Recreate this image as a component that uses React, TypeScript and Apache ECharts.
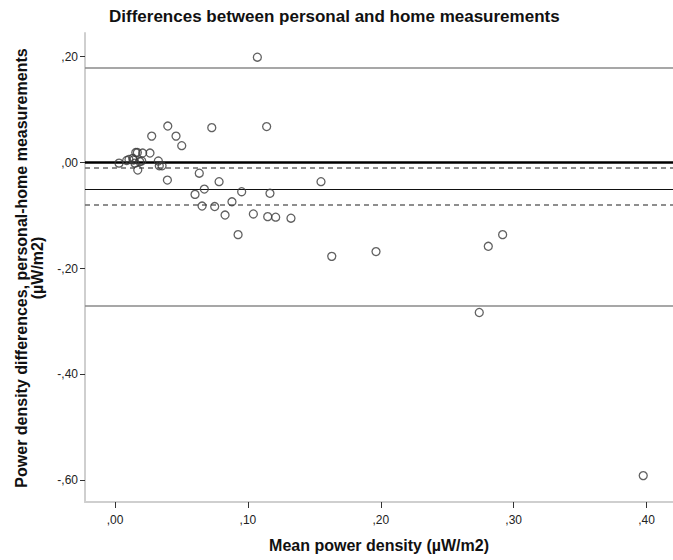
import React, { useEffect, useRef } from "react";
import * as echarts from "echarts";

// Mean power density (µW/m2) for each subject
const meanPower = [
  0.003, 0.0088, 0.0138, 0.0156, 0.0168, 0.0208, 0.0263, 0.0201, 0.015, 0.0171,
  0.0133, 0.0276, 0.0397, 0.0459, 0.0502, 0.0728, 0.1141, 0.0326, 0.0333, 0.0354,
  0.0394, 0.0634, 0.0783, 0.0672, 0.0602, 0.0953, 0.1166, 0.0655, 0.075, 0.088,
  0.0828, 0.1041, 0.1149, 0.1209, 0.1324, 0.0926, 0.155, 0.1631, 0.1964, 0.2809,
  0.2917, 0.2741, 0.1071, 0.3975, 0.0105, 0.0186,
];
// Personal - home differences (µW/m2)
const diffPower = [
  -0.001, 0.004, 0.005, 0.019, 0.019, 0.018, 0.018, 0.003, -0.001, -0.014,
  0.008, 0.05, 0.069, 0.05, 0.032, 0.066, 0.068, 0.003, -0.006, -0.006,
  -0.033, -0.02, -0.036, -0.05, -0.06, -0.055, -0.058, -0.082, -0.083, -0.074,
  -0.099, -0.097, -0.102, -0.103, -0.105, -0.136, -0.036, -0.177, -0.168, -0.158,
  -0.136, -0.283, 0.199, -0.591, 0.006, 0.002,
];

const xTicks = [0, 0.1, 0.2, 0.3, 0.4];
const yTicks = [0.2, 0, -0.2, -0.4, -0.6];

const zeroLine = 0;
const meanDiff = -0.0464;
const ciUpper = -0.0125;
const ciLower = -0.0798;
const upperLoA = 0.18;
const lowerLoA = -0.2728;

const FONT = "'Liberation Sans', Arial, sans-serif";

function fmt(v: number): string {
  const s = Math.abs(v).toFixed(2).replace(/^0\./, ",");
  return (v < -1e-9 ? "-" : "") + s;
}

export default function App() {
  const ref = useRef<HTMLDivElement>(null);
  useEffect(() => {
    if (!ref.current) return;
    const chart = echarts.init(ref.current, undefined, { renderer: "svg" });
    const points = meanPower.map((x, i) => [x, diffPower[i]]);
    const gray = { color: "#8a8a8a", width: 1.5, type: "solid" as const };
    const dashed = { color: "#6a6a6a", width: 1.5, type: [5, 4] as any };
    chart.setOption({
      animation: false,
      backgroundColor: "#ffffff",
      title: {
        text: "Differences between personal and home measurements",
        left: 104,
        top: 3,
        textStyle: { fontSize: 17, fontWeight: "bold", color: "#111", fontFamily: FONT },
      },
      grid: { left: 85, right: 0, top: 33, bottom: 58, containLabel: false },
      xAxis: {
        type: "value",
        min: -0.0226,
        max: 0.4199,
        splitLine: { show: false },
        axisLine: { show: true, onZero: false, lineStyle: { color: "#cfcfcf", width: 2 } },
        axisTick: { show: true, customValues: xTicks, length: 6, lineStyle: { color: "#333", width: 1 } },
        axisLabel: {
          customValues: xTicks,
          formatter: fmt,
          margin: 12,
          fontSize: 12,
          color: "#222",
          fontFamily: FONT,
        },
        name: "Mean power density (µW/m2)",
        nameLocation: "middle",
        nameGap: 35,
        nameTextStyle: { fontSize: 16, fontWeight: "bold", color: "#111", fontFamily: FONT },
      },
      yAxis: {
        type: "value",
        min: -0.6408,
        max: 0.2447,
        splitLine: { show: false },
        axisLine: { show: true, onZero: false, lineStyle: { color: "#cfcfcf", width: 2 } },
        axisTick: { show: true, customValues: yTicks, length: 5, lineStyle: { color: "#333", width: 1 } },
        axisLabel: {
          customValues: yTicks,
          formatter: fmt,
          margin: 7,
          fontSize: 12,
          color: "#222",
          fontFamily: FONT,
        },
      },
      graphic: [
        {
          type: "text",
          x: 29,
          y: 268,
          rotation: Math.PI / 2,
          style: {
            text: "Power density differences, personal-home measurements\n(µW/m2)",
            textAlign: "center",
            textVerticalAlign: "middle",
            font: `bold 16px ${FONT}`,
            lineHeight: 16,
            fill: "#111",
          },
        },
      ],
      series: [
        {
          type: "scatter",
          data: points,
          symbol: "circle",
          symbolSize: 8,
          itemStyle: { color: "rgba(0,0,0,0)", borderColor: "#3a3a3a", borderWidth: 1.3 },
          z: 3,
          markLine: {
            silent: true,
            symbol: ["none", "none"],
            label: { show: false },
            z: 2,
            data: [
              { yAxis: upperLoA, lineStyle: gray },
              { yAxis: lowerLoA, lineStyle: gray },
              { yAxis: ciUpper, lineStyle: dashed },
              { yAxis: ciLower, lineStyle: dashed },
              { yAxis: meanDiff, lineStyle: { color: "#111", width: 1, type: "solid" } },
              { yAxis: zeroLine, lineStyle: { color: "#000", width: 2.5, type: "solid" } },
            ],
          },
        },
      ],
    });
    return () => chart.dispose();
  }, []);
  return (
    <div
      ref={ref}
      style={{ position: "fixed", left: 0, top: 0, width: 673, height: 560, background: "#fff" }}
    />
  );
}
